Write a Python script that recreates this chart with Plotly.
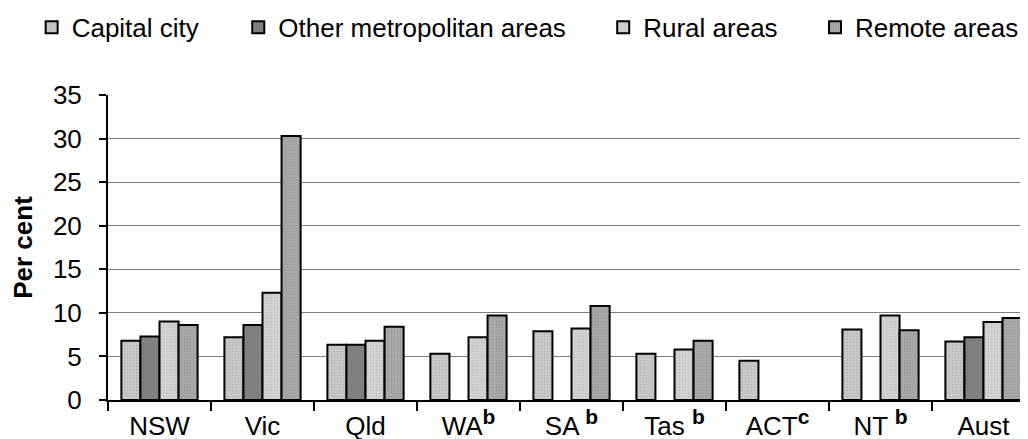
import plotly.graph_objects as go

categories = ["NSW", "Vic", "Qld", "WA", "SA", "Tas", "ACT", "NT", "Aust"]
sup = "<sup><span style='font-size:21px;font-weight:bold'>{}</span></sup>"
tick_labels = [
    "NSW", "Vic", "Qld",
    "WA" + sup.format("b"),
    "SA " + sup.format("b"),
    "Tas " + sup.format("b"),
    "ACT" + sup.format("c"),
    "NT " + sup.format("b"),
    "Aust",
]
capital_city = [6.8, 7.2, 6.35, 5.3, 7.9, 5.3, 4.5, 8.1, 6.7]
other_metro = [7.3, 8.6, 6.35, None, None, None, None, None, 7.2]
rural_areas = [9.0, 12.3, 6.8, 7.2, 8.2, 5.8, None, 9.7, 8.95]
remote_areas = [8.6, 30.3, 8.4, 9.7, 10.8, 6.8, None, 8.0, 9.4]

series = [
    ("Capital city", capital_city, "#cacaca", "#a0a0a0", ".", "legend", 0.0230),
    ("Other metropolitan areas", other_metro, "#808080", "#808080", "", "legend2", 0.2240),
    ("Rural areas", rural_areas, "#d4d4d4", "#b0b0b0", ".", "legend3", 0.5790),
    ("Remote areas", remote_areas, "#aaaaaa", "#888888", ".", "legend4", 0.7850),
]

fig = go.Figure()
legends = {}
for name, vals, col, fg, shp, lg, lx in series:
    fig.add_trace(go.Bar(
        x=categories, y=vals, name=name, legend=lg,
        marker=dict(color=col, line=dict(color="black", width=2),
                    pattern=dict(shape=shp, size=3, solidity=0.3, fgcolor=fg, bgcolor=col)),
    ))
    legends[lg] = dict(orientation="h", xref="container", x=lx, xanchor="left",
                       yref="container", y=0.956, yanchor="middle", font=dict(size=26),
                       bgcolor="rgba(0,0,0,0)")

fig.update_layout(
    width=1028, height=439,
    margin=dict(l=100, r=1, t=87, b=47),
    paper_bgcolor="white", plot_bgcolor="white",
    font=dict(family="Liberation Sans, Arial, sans-serif", size=26, color="black"),
    barmode="group", bargap=0.26, bargroupgap=0,
    showlegend=True,
    **legends,
)
fig.update_xaxes(
    tickvals=categories, ticktext=tick_labels,
    tickson="boundaries", ticks="outside", ticklen=9, tickwidth=2, tickcolor="black",
    ticklabelstandoff=2,
    showline=True, linecolor="black", linewidth=2, showgrid=False,
)
fig.update_yaxes(
    range=[0, 35], dtick=5, ticks="outside", ticklen=7, tickwidth=2, tickcolor="black",
    ticklabelstandoff=12,
    showline=True, linecolor="black", linewidth=2,
    showgrid=True, gridcolor="#808080", gridwidth=1, zeroline=False,
    title=dict(text="<b>Per cent</b>", font=dict(size=26), standoff=16),
)
fig.write_html("out.html")
